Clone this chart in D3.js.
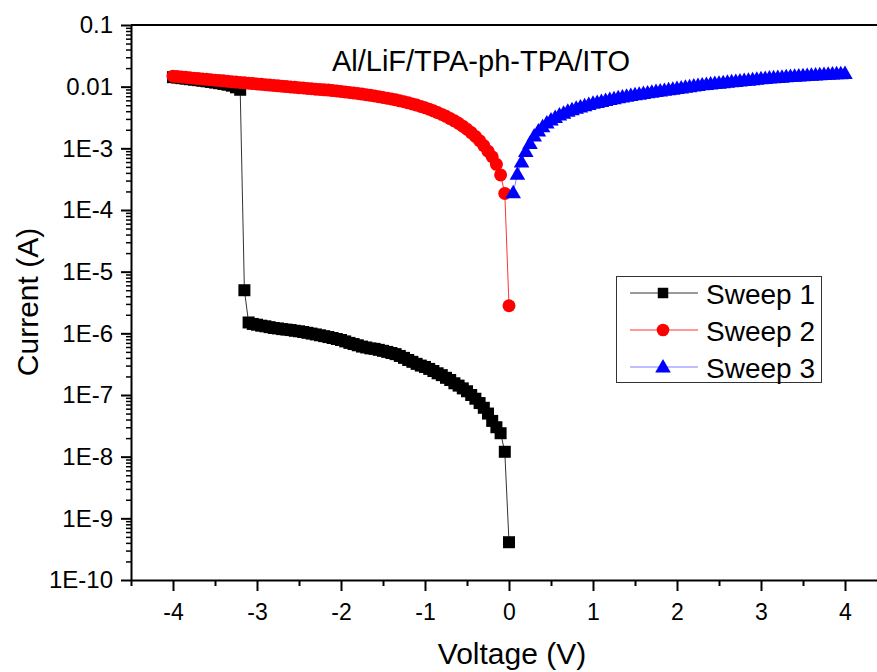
<!DOCTYPE html>
<html>
<head>
<meta charset="utf-8">
<script src="https://cdn.jsdelivr.net/npm/d3@7"></script>
<style>
  html, body { margin: 0; padding: 0; background: #fff; }
  svg { display: block; font-family: "Liberation Sans", Arial, Helvetica, sans-serif; }
</style>
</head>
<body>
<svg id="chart" width="877" height="672"></svg>
<script>
// Voltage steps of the negative sweeps (Sweep 1 and Sweep 2), in V
const voltsNeg = [
  -4.00, -3.95, -3.90, -3.85, -3.80, -3.75, -3.70, -3.65, -3.60, -3.55,
  -3.50, -3.45, -3.40, -3.35, -3.30, -3.25, -3.20, -3.15, -3.10, -3.05,
  -3.00, -2.95, -2.90, -2.85, -2.80, -2.75, -2.70, -2.65, -2.60, -2.55,
  -2.50, -2.45, -2.40, -2.35, -2.30, -2.25, -2.20, -2.15, -2.10, -2.05,
  -2.00, -1.95, -1.90, -1.85, -1.80, -1.75, -1.70, -1.65, -1.60, -1.55,
  -1.50, -1.45, -1.40, -1.35, -1.30, -1.25, -1.20, -1.15, -1.10, -1.05,
  -1.00, -0.95, -0.90, -0.85, -0.80, -0.75, -0.70, -0.65, -0.60, -0.55,
  -0.50, -0.45, -0.40, -0.35, -0.30, -0.25, -0.20, -0.15, -0.10, -0.05,
   0.00
];

// Voltage steps of the positive sweep (Sweep 3), in V
const voltsPos = [
  0.05, 0.10, 0.15, 0.20, 0.25, 0.30, 0.35, 0.40, 0.45, 0.50,
  0.55, 0.60, 0.65, 0.70, 0.75, 0.80, 0.85, 0.90, 0.95, 1.00,
  1.05, 1.10, 1.15, 1.20, 1.25, 1.30, 1.35, 1.40, 1.45, 1.50,
  1.55, 1.60, 1.65, 1.70, 1.75, 1.80, 1.85, 1.90, 1.95, 2.00,
  2.05, 2.10, 2.15, 2.20, 2.25, 2.30, 2.35, 2.40, 2.45, 2.50,
  2.55, 2.60, 2.65, 2.70, 2.75, 2.80, 2.85, 2.90, 2.95, 3.00,
  3.05, 3.10, 3.15, 3.20, 3.25, 3.30, 3.35, 3.40, 3.45, 3.50,
  3.55, 3.60, 3.65, 3.70, 3.75, 3.80, 3.85, 3.90, 3.95, 4.00
];

// Sweep 1 current (A): ON state down to -3.2 V, then the OFF state
const sweep1 = [
  1.426e-2, 1.403e-2, 1.374e-2, 1.349e-2, 1.321e-2, 1.297e-2, 1.274e-2, 1.247e-2, 1.222e-2, 1.194e-2,
  1.164e-2, 1.138e-2, 1.109e-2, 1.076e-2, 1.038e-2, 9.75e-3, 8.91e-3, 5.0e-6, 1.5e-6, 1.42e-6,
  1.38e-6, 1.33e-6, 1.30e-6, 1.26e-6, 1.22e-6, 1.20e-6, 1.17e-6, 1.15e-6, 1.13e-6, 1.10e-6,
  1.08e-6, 1.05e-6, 1.02e-6, 9.9e-7, 9.6e-7, 9.3e-7, 9.0e-7, 8.7e-7, 8.4e-7, 8.1e-7,
  7.8e-7, 7.4e-7, 7.0e-7, 6.7e-7, 6.4e-7, 6.1e-7, 5.9e-7, 5.7e-7, 5.6e-7, 5.4e-7,
  5.2e-7, 5.0e-7, 4.8e-7, 4.6e-7, 4.3e-7, 4.0e-7, 3.7e-7, 3.45e-7, 3.2e-7, 3.0e-7,
  2.85e-7, 2.65e-7, 2.45e-7, 2.25e-7, 2.1e-7, 1.9e-7, 1.75e-7, 1.55e-7, 1.42e-7, 1.28e-7,
  1.15e-7, 1.0e-7, 8.7e-8, 7.4e-8, 6.2e-8, 5.0e-8, 3.8e-8, 3.0e-8, 2.4e-8, 1.2e-8,
  4.1e-10
];

// Sweep 2 current (A)
const sweep2 = [
  1.479e-2, 1.459e-2, 1.437e-2, 1.416e-2, 1.393e-2, 1.374e-2, 1.355e-2, 1.334e-2, 1.315e-2, 1.297e-2,
  1.276e-2, 1.259e-2, 1.242e-2, 1.222e-2, 1.205e-2, 1.186e-2, 1.169e-2, 1.153e-2, 1.138e-2, 1.122e-2,
  1.107e-2, 1.092e-2, 1.076e-2, 1.062e-2, 1.047e-2, 1.033e-2, 1.019e-2, 1.005e-2, 9.91e-3, 9.77e-3,
  9.64e-3, 9.51e-3, 9.38e-3, 9.25e-3, 9.12e-3, 8.99e-3, 8.89e-3, 8.79e-3, 8.65e-3, 8.51e-3,
  8.36e-3, 8.20e-3, 8.05e-3, 7.91e-3, 7.74e-3, 7.59e-3, 7.41e-3, 7.24e-3, 7.06e-3, 6.89e-3,
  6.70e-3, 6.50e-3, 6.31e-3, 6.11e-3, 5.90e-3, 5.69e-3, 5.47e-3, 5.25e-3, 5.02e-3, 4.79e-3,
  4.55e-3, 4.31e-3, 4.06e-3, 3.80e-3, 3.55e-3, 3.30e-3, 3.04e-3, 2.79e-3, 2.54e-3, 2.29e-3,
  2.04e-3, 1.80e-3, 1.56e-3, 1.33e-3, 1.11e-3, 9.0e-4, 7.3e-4, 5.5e-4, 3.7e-4, 1.86e-4,
  2.8e-6
];

// Sweep 3 current (A)
const sweep3 = [
  1.9e-4, 3.8e-4, 6.03e-4, 8.91e-4, 1.20e-3, 1.58e-3, 1.91e-3, 2.24e-3, 2.57e-3, 2.88e-3,
  3.16e-3, 3.47e-3, 3.72e-3, 3.98e-3, 4.22e-3, 4.47e-3, 4.68e-3, 4.90e-3, 5.13e-3, 5.37e-3,
  5.56e-3, 5.75e-3, 5.96e-3, 6.17e-3, 6.38e-3, 6.61e-3, 6.79e-3, 6.98e-3, 7.18e-3, 7.38e-3,
  7.55e-3, 7.73e-3, 7.93e-3, 8.11e-3, 8.32e-3, 8.51e-3, 8.71e-3, 8.91e-3, 9.12e-3, 9.33e-3,
  9.55e-3, 9.77e-3, 1.000e-2, 1.023e-2, 1.047e-2, 1.069e-2, 1.086e-2, 1.104e-2, 1.122e-2, 1.140e-2,
  1.159e-2, 1.178e-2, 1.197e-2, 1.216e-2, 1.236e-2, 1.256e-2, 1.276e-2, 1.297e-2, 1.318e-2, 1.340e-2,
  1.358e-2, 1.377e-2, 1.393e-2, 1.409e-2, 1.426e-2, 1.442e-2, 1.459e-2, 1.476e-2, 1.493e-2, 1.507e-2,
  1.521e-2, 1.535e-2, 1.549e-2, 1.563e-2, 1.578e-2, 1.592e-2, 1.603e-2, 1.614e-2, 1.626e-2, 1.637e-2
];

// Axis ticks
const xMajorTicks = [-4, -3, -2, -1, 0, 1, 2, 3, 4];
const xMinorTicks = [-4.5, -3.5, -2.5, -1.5, -0.5, 0.5, 1.5, 2.5, 3.5, 4.5];
const yMajorTicks = [1e-1, 1e-2, 1e-3, 1e-4, 1e-5, 1e-6, 1e-7, 1e-8, 1e-9, 1e-10];
const yTickLabels = ["0.1", "0.01", "1E-3", "1E-4", "1E-5", "1E-6", "1E-7", "1E-8", "1E-9", "1E-10"];

const chartTitle = "Al/LiF/TPA-ph-TPA/ITO";
const xTitle = "Voltage (V)";
const yTitle = "Current (A)";
const seriesNames = ["Sweep 1", "Sweep 2", "Sweep 3"];

const svg = d3.select("#chart");

const plotLeft = 131, plotTop = 25, plotBottom = 580;
const x = d3.scaleLinear().domain([-4.5, 4.9]).range([plotLeft, plotLeft + 9.4 * 84]);
const y = d3.scaleLog().domain([1e-10, 1e-1]).range([plotBottom, plotTop]);

// minor log ticks: 2..9 of each decade
const yMinorTicks = [];
for (let e = -10; e < -1; e++) {
  for (let m = 2; m <= 9; m++) yMinorTicks.push(m * Math.pow(10, e));
}

const axisStroke = 2;

// X axis
const gx = svg.append("g").attr("transform", `translate(0,${plotBottom})`);
gx.call(d3.axisBottom(x).tickValues(xMajorTicks).tickSize(11).tickSizeOuter(0).tickPadding(6)
  .tickFormat(d => String(d)));
gx.select(".domain").attr("stroke-width", axisStroke);
gx.selectAll(".tick line").attr("stroke-width", axisStroke);
gx.selectAll(".tick text").attr("font-size", 23).attr("font-family", "Liberation Sans, Arial, sans-serif")
  .attr("fill", "#000").attr("y", 17).attr("dy", "1.0em");

const gxm = svg.append("g").attr("transform", `translate(0,${plotBottom})`);
gxm.call(d3.axisBottom(x).tickValues(xMinorTicks).tickSize(6).tickSizeOuter(0).tickFormat(""));
gxm.select(".domain").remove();
gxm.selectAll(".tick line").attr("stroke-width", axisStroke);

// Y axis
const gy = svg.append("g").attr("transform", `translate(${plotLeft},0)`);
gy.call(d3.axisLeft(y).tickValues(yMajorTicks).tickSize(10).tickSizeOuter(0).tickPadding(8)
  .tickFormat((d, i) => yTickLabels[i]));
gy.select(".domain").attr("stroke-width", axisStroke);
gy.selectAll(".tick line").attr("stroke-width", axisStroke);
gy.selectAll(".tick text").attr("font-size", 24).attr("font-family", "Liberation Sans, Arial, sans-serif")
  .attr("fill", "#000");

const gym = svg.append("g").attr("transform", `translate(${plotLeft},0)`);
gym.call(d3.axisLeft(y).tickValues(yMinorTicks).tickSize(5).tickSizeOuter(0).tickFormat(""));
gym.select(".domain").remove();
gym.selectAll(".tick line").attr("stroke-width", 1.5);

// top frame line
svg.append("line")
  .attr("x1", plotLeft).attr("x2", x.range()[1]).attr("y1", plotTop).attr("y2", plotTop)
  .attr("stroke", "#000").attr("stroke-width", axisStroke);

// Axis titles
svg.append("text").attr("x", 512).attr("y", 664).attr("text-anchor", "middle")
  .attr("font-size", 30).text(xTitle);
svg.append("text").attr("transform", "translate(38,302) rotate(-90)").attr("text-anchor", "middle")
  .attr("font-size", 30).text(yTitle);

// Chart title
svg.append("text").attr("x", 481).attr("y", 71).attr("text-anchor", "middle")
  .attr("font-size", 29).text(chartTitle);

// Series
const series = [
  { name: seriesNames[0], volts: voltsNeg, amps: sweep1, color: "#000000", line: "#000000", lineOpacity: 0.8, shape: "square" },
  { name: seriesNames[1], volts: voltsNeg, amps: sweep2, color: "#ff0000", line: "#ff0000", lineOpacity: 0.8, shape: "circle" },
  { name: seriesNames[2], volts: voltsPos, amps: sweep3, color: "#0000ff", line: "#0000ff", lineOpacity: 0.5, shape: "triangle" }
];

const symbolFor = {
  square: d3.symbol().type(d3.symbolSquare).size(144),
  circle: d3.symbol().type(d3.symbolCircle).size(Math.PI * 6.5 * 6.5),
  triangle: d3.symbol().type(d3.symbolTriangle).size(105)
};

const lineGen = d3.line().x(d => x(d[0])).y(d => y(d[1]));

series.forEach(s => {
  const pts = s.volts.map((v, i) => [v, s.amps[i]]);
  const g = svg.append("g");
  g.append("path").datum(pts).attr("d", lineGen)
    .attr("fill", "none").attr("stroke", s.line).attr("stroke-width", 1).attr("stroke-opacity", s.lineOpacity);
  g.selectAll("path.mk").data(pts).enter().append("path").attr("class", "mk")
    .attr("d", symbolFor[s.shape])
    .attr("transform", d => `translate(${x(d[0])},${y(d[1]) + (s.shape === "triangle" ? 1 : 0)})`)
    .attr("fill", s.color);
});

// Legend
const lg = svg.append("g");
lg.append("rect").attr("x", 616.5).attr("y", 276.5).attr("width", 205).attr("height", 106)
  .attr("fill", "#fff").attr("stroke", "#333").attr("stroke-width", 1);
const rowY = [293, 330, 367];
series.forEach((s, i) => {
  lg.append("line").attr("x1", 630).attr("x2", 698).attr("y1", rowY[i]).attr("y2", rowY[i])
    .attr("stroke", s.line).attr("stroke-width", 1).attr("stroke-opacity", s.lineOpacity);
  lg.append("path").attr("d", symbolFor[s.shape].size(s.shape === "square" ? 110 : s.shape === "circle" ? 125 : 105))
    .attr("transform", `translate(663,${rowY[i] + (s.shape === "triangle" ? 1 : 0)})`)
    .attr("fill", s.color);
  lg.append("text").attr("x", 706).attr("y", rowY[i] + 11).attr("font-size", 28).text(s.name);
});
</script>
</body>
</html>
